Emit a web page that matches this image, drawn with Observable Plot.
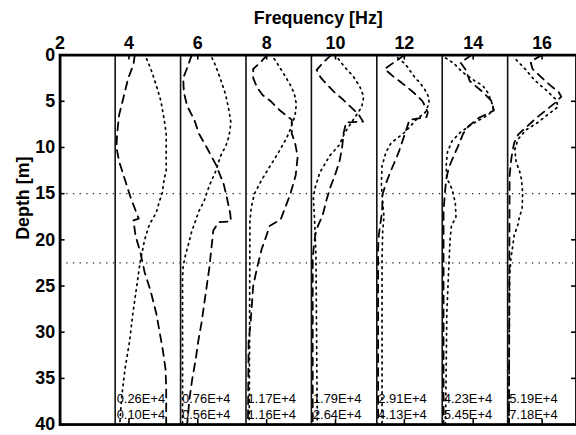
<!DOCTYPE html>
<html><head><meta charset="utf-8">
<script src="https://cdn.jsdelivr.net/npm/d3@7"></script>
<script src="https://cdn.jsdelivr.net/npm/@observablehq/plot@0.6"></script>
<style>html,body{margin:0;padding:0;overflow:hidden;background:#fff;width:576px;height:435px}</style>
</head><body><div id="chart"></div>
<script>
// Panels: one per frequency, each profile drawn from a baseline (in Hz units)
const frequencies = [4, 6, 8, 10, 12, 14, 16];
const baselines = [3.6, 5.5, 7.4, 9.3, 11.2, 13.1, 15.0];
const panelWidth = 1.9; // width of one profile panel in Hz
const xTicks = [2, 4, 6, 8, 10, 12, 14, 16];
const yTicks = [0, 5, 10, 15, 20, 25, 30, 35, 40];
const guideDepths = [15, 22.5];
const upperLabels = ["0.26E+4", "0.76E+4", "1.17E+4", "1.79E+4", "2.91E+4", "4.23E+4", "5.19E+4"];
const lowerLabels = ["0.10E+4", "0.56E+4", "1.16E+4", "2.64E+4", "4.13E+4", "5.45E+4", "7.18E+4"];

// Normalised amplitude profiles: [depth m, fraction of panel width]
const dashed4 = [[0,0.30],[1,0.28],[2.5,0.20],[4.5,0.13],[6.5,0.06],[8.5,0.03],[10,0.02],[11.5,0.06],[13.5,0.15],[15.5,0.24],[17.7,0.36],[17.9,0.28],[19.5,0.31],[21.5,0.39],[23.5,0.45],[25.5,0.54],[28,0.63],[30,0.68],[32,0.73],[34,0.77],[36,0.78],[40,0.78]];
const dotted4 = [[0.4,0.48],[0.7,0.50],[1.6,0.55],[3.3,0.63],[5,0.70],[7,0.75],[8.5,0.78],[12.5,0.78],[13.4,0.75],[14.9,0.72],[16,0.67],[17,0.63],[17.8,0.57],[18.2,0.53],[20,0.45],[22.5,0.38],[25,0.33],[28,0.27],[31,0.22],[34,0.15],[37,0.10],[40,0.07]];
const dashed6 = [[0,0.17],[1,0.12],[2.5,0.04],[4,0.05],[5.5,0.10],[7,0.21],[8.5,0.28],[10,0.40],[12,0.55],[14,0.66],[15.5,0.71],[17.2,0.76],[18,0.77],[18.1,0.58],[19,0.50],[21,0.47],[23,0.44],[25,0.40],[27,0.36],[29,0.32],[31,0.27],[33,0.23],[35,0.18],[37,0.14],[40,0.10]];
const dotted6 = [[0.3,0.48],[0.7,0.51],[2,0.58],[3,0.63],[4.3,0.69],[6,0.74],[7.3,0.77],[8.8,0.74],[9.9,0.69],[10.6,0.63],[11.6,0.58],[12.7,0.53],[13.8,0.46],[14.9,0.40],[15.8,0.36],[16.9,0.28],[17.9,0.23],[19.1,0.17],[20.2,0.13],[21.5,0.08],[22.8,0.04],[24.2,0.03],[40,0.03]];
const dashed8 = [[0,0.32],[0.8,0.22],[1.5,0.11],[2.5,0.11],[3.5,0.17],[4.3,0.25],[5,0.38],[6,0.52],[7,0.70],[8.5,0.70],[9.5,0.75],[11,0.79],[13,0.76],[15,0.68],[16.5,0.60],[17.8,0.53],[18.5,0.36],[19.6,0.31],[21,0.24],[23,0.17],[25,0.11],[27,0.09],[29,0.07],[31,0.04],[40,0.03]];
const dotted8 = [[0.4,0.43],[0.7,0.46],[1.6,0.54],[2.4,0.61],[3.4,0.69],[4.2,0.74],[5.3,0.77],[6.5,0.75],[8,0.68],[9,0.62],[10.5,0.50],[12,0.37],[13.5,0.24],[15,0.13],[16.5,0.08],[18,0.06],[40,0.05]];
const dashed10 = [[0,0.30],[0.8,0.18],[1.6,0.08],[2.4,0.14],[3.2,0.24],[4,0.35],[4.8,0.48],[5.6,0.60],[6.4,0.72],[7.2,0.79],[7.3,0.53],[8.5,0.49],[10,0.47],[11.5,0.43],[13,0.36],[14.3,0.29],[15.7,0.23],[17.4,0.17],[18,0.13],[19,0.07],[20.5,0.04],[22,0.02],[40,0.02]];
const dotted10 = [[0.4,0.41],[1.3,0.51],[2.3,0.64],[3.4,0.74],[4.5,0.80],[5.6,0.77],[7,0.64],[8.4,0.51],[9.7,0.43],[10.9,0.28],[12.7,0.13],[14.5,0.05],[15.5,0.03],[18,0.05],[22,0.07],[40,0.09]];
const dashed12 = [[0,0.42],[0.6,0.30],[1.5,0.12],[2.3,0.25],[3,0.38],[4.1,0.57],[5,0.70],[6.2,0.78],[6.7,0.76],[7,0.50],[8.5,0.43],[10.2,0.35],[11.3,0.29],[12.6,0.21],[13.7,0.15],[15,0.09],[17,0.08],[18,0.06],[19.5,0.03],[21,0.02],[40,0.02]];
const dotted12 = [[0.3,0.32],[1,0.44],[1.8,0.52],[2.5,0.59],[3,0.66],[3.8,0.74],[4.5,0.79],[5.2,0.80],[6.2,0.74],[7,0.60],[7.8,0.50],[8.4,0.42],[9,0.31],[9.5,0.22],[10.5,0.14],[12,0.08],[14,0.07],[16,0.09],[17.5,0.11],[19,0.09],[22,0.08],[40,0.08]];
const dashed14 = [[0,0.45],[0.8,0.28],[1.6,0.36],[2.8,0.42],[4,0.62],[5,0.76],[6,0.79],[6.8,0.56],[7.7,0.40],[8.5,0.32],[9.9,0.24],[11,0.17],[12.2,0.10],[13.5,0.06],[15,0.04],[17,0.02],[40,0.02]];
const dotted14 = [[0.3,0.05],[0.9,0.18],[1.8,0.30],[2.8,0.50],[3.3,0.62],[4.1,0.70],[5.2,0.76],[5.9,0.78],[6.5,0.70],[7.4,0.47],[8.4,0.27],[9.3,0.15],[10.5,0.08],[12,0.06],[13.3,0.07],[14.5,0.15],[16,0.20],[17.5,0.21],[18.5,0.14],[20,0.12],[23,0.10],[28,0.07],[40,0.05]];
const dashed16 = [[0,0.52],[0.7,0.35],[1.5,0.38],[2.3,0.50],[3.2,0.64],[4,0.78],[4.5,0.82],[5.2,0.72],[6,0.58],[6.8,0.44],[7.7,0.30],[8.6,0.16],[9.5,0.10],[11,0.06],[13,0.03],[40,0.02]];
const dotted16 = [[0.5,0.13],[1.6,0.28],[2.7,0.41],[3.8,0.59],[4.8,0.74],[5.6,0.77],[6.3,0.64],[7.4,0.44],[8.1,0.28],[9.1,0.16],[10.2,0.11],[11.6,0.13],[12.5,0.18],[13.4,0.21],[14.9,0.23],[16.7,0.22],[17.5,0.18],[18.3,0.16],[19.5,0.10],[20.6,0.08],[22,0.05],[24,0.03],[40,0.02]];

const dashedProfiles = [dashed4, dashed6, dashed8, dashed10, dashed12, dashed14, dashed16];
const dottedProfiles = [dotted4, dotted6, dotted8, dotted10, dotted12, dotted14, dotted16];

function rows(profiles) {
  const out = [];
  profiles.forEach((p, i) => p.forEach(([depth, v]) =>
    out.push({panel: frequencies[i], depth, x: baselines[i] + v * panelWidth})));
  return out;
}
const dashedRows = rows(dashedProfiles);
const dottedRows = rows(dottedProfiles);
const panels = frequencies.map((f, i) => ({f, base: baselines[i], upper: upperLabels[i], lower: lowerLabels[i]}));

const W = 580, H = 435, mL = 60, mR = 0, mT = 55, mB = 8;
const fh = H - mT - mB, fw = W - mL - mR, tick = 5;
const font = "Liberation Sans, Arial, Helvetica, sans-serif";

const chart = Plot.plot({
  width: W, height: H,
  marginLeft: mL, marginRight: mR, marginTop: mT, marginBottom: mB,
  style: {fontFamily: font, background: "#fff", color: "#000", overflow: "visible"},
  x: {domain: [2, 17], axis: null},
  y: {domain: [0, 40], reverse: true, axis: null},
  marks: [
    Plot.ruleY(guideDepths, {stroke: "#222", strokeWidth: 1.3, strokeDasharray: "1.3,5.4"}),
    Plot.ruleX(baselines, {stroke: "#111", strokeWidth: 1.6}),
    Plot.line(dashedRows, {x: "x", y: "depth", z: "panel", stroke: "#000", strokeWidth: 1.8, strokeDasharray: "8,6", curve: "linear"}),
    Plot.line(dottedRows, {x: "x", y: "depth", z: "panel", stroke: "#000", strokeWidth: 1.7, strokeDasharray: "1.6,4.4", curve: "linear"}),
    Plot.text(panels, {x: "base", y: () => 37.2, text: "upper", textAnchor: "start", dx: 1.5, fontSize: 13, lineAnchor: "middle"}),
    Plot.text(panels, {x: "base", y: () => 39.0, text: "lower", textAnchor: "start", dx: 1.5, fontSize: 13, lineAnchor: "middle"}),
    // inward ticks
    Plot.tickX(xTicks, {x: d => d, insetTop: fh - tick, strokeWidth: 1.6}),
    Plot.tickX(xTicks, {x: d => d, insetBottom: fh - tick, strokeWidth: 1.6}),
    Plot.tickY(yTicks, {y: d => d, insetRight: fw - tick, strokeWidth: 1.6}),
    Plot.tickY(yTicks, {y: d => d, insetLeft: fw - tick, strokeWidth: 1.6}),
    Plot.frame({stroke: "#000", strokeWidth: 2.8}),
    // tick labels
    Plot.text(xTicks, {x: d => d, text: d => String(d), frameAnchor: "top", lineAnchor: "bottom", dy: -6, fontSize: 18, fontWeight: "bold"}),
    Plot.text(yTicks, {y: d => d, text: d => String(d), frameAnchor: "left", textAnchor: "end", lineAnchor: "middle", dx: -5, fontSize: 18, fontWeight: "bold"}),
    // axis titles
    Plot.text(["Frequency [Hz]"], {frameAnchor: "top", lineAnchor: "bottom", dy: -31, fontSize: 18, fontWeight: "bold"}),
    Plot.text(["Depth [m]"], {frameAnchor: "left", rotate: -90, lineAnchor: "middle", dx: -37, fontSize: 18, fontWeight: "bold"})
  ]
});
document.getElementById("chart").appendChild(chart);
</script>
</body></html>
